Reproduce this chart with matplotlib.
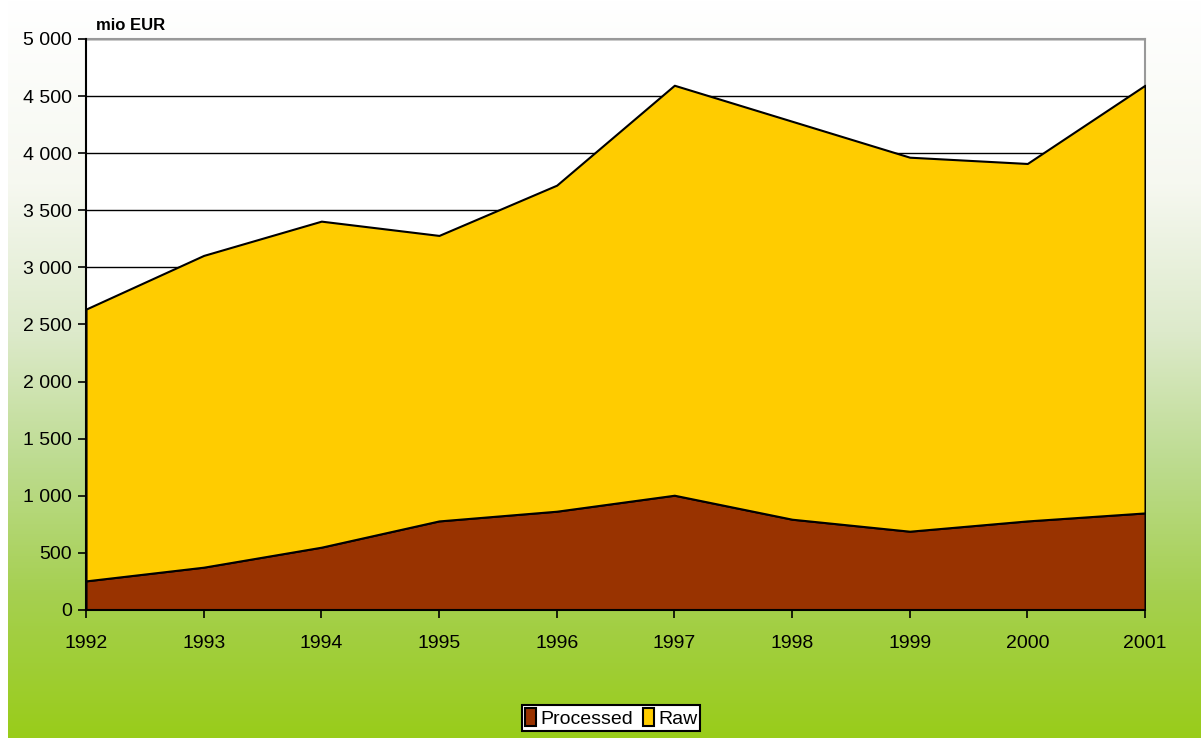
import matplotlib
matplotlib.use('Agg')
import matplotlib.pyplot as plt
import numpy as np
from matplotlib.colors import LinearSegmentedColormap
from matplotlib.ticker import FuncFormatter

plt.rcParams['font.family'] = ['Liberation Sans', 'DejaVu Sans']

# Data (mio EUR)
years     = [1992, 1993, 1994, 1995, 1996, 1997, 1998, 1999, 2000, 2001]
processed = [255, 375, 550, 780, 865, 1005, 795, 690, 780, 850]
total     = [2635, 3105, 3405, 3280, 3720, 4595, 4280, 3965, 3910, 4595]
raw       = [t - p for t, p in zip(total, processed)]

fig = plt.figure(figsize=(12.01, 7.38), dpi=100)

# Background gradient (white at top -> green at bottom)
bg = fig.add_axes([8 / 1201, 0, 1 - 8 / 1201, 1], zorder=0)
cmap = LinearSegmentedColormap.from_list('bg', [
    (0.0, '#FFFFFF'), (0.25, '#F6F8F0'), (0.45, '#DDEACB'),
    (0.62, '#BEDC92'), (0.8, '#A6D052'), (1.0, '#99CC1A')])
grad = np.linspace(0, 1, 256).reshape(-1, 1)
bg.imshow(grad, aspect='auto', cmap=cmap, extent=[0, 1, 0, 1], origin='upper')
bg.axis('off')

# Plot area
ax = fig.add_axes([86 / 1201, 1 - 610 / 738, (1145 - 86) / 1201, (610 - 39) / 738], zorder=1)
ax.set_facecolor('white')
ax.stackplot(years, processed, raw, colors=['#993300', '#FFCC00'],
             edgecolor='black', linewidth=1.5, labels=['Processed', 'Raw'], zorder=3)

ax.set_xlim(1992, 2001)
ax.set_ylim(0, 5000)
ax.set_xticks(years)
ax.set_yticks(range(0, 5001, 500))
ax.yaxis.set_major_formatter(FuncFormatter(lambda v, p: f'{int(v):,}'.replace(',', ' ')))
ax.grid(axis='y', color='black', linewidth=1, zorder=2)
ax.set_axisbelow(True)

ax.tick_params(axis='both', direction='out', length=6, width=1.2, labelsize=14, colors='black')
ax.tick_params(axis='x', pad=12)
ax.tick_params(axis='y', pad=4)
for side in ['top', 'right']:
    ax.spines[side].set_color('#999999')
    ax.spines[side].set_linewidth(1.5)
for side in ['left', 'bottom']:
    ax.spines[side].set_color('black')
    ax.spines[side].set_linewidth(1.5)
    ax.spines[side].set_zorder(5)

fig.text(96 / 1201, 1 - 26 / 738, 'mio EUR', fontsize=12, fontweight='bold', va='center')

leg = fig.legend(loc='center', bbox_to_anchor=(611 / 1201, 1 - 718 / 738), ncol=2,
                 fontsize=14, frameon=True, fancybox=False, edgecolor='black',
                 facecolor='white', framealpha=1,
                 handlelength=0.6, handleheight=1.0, handletextpad=0.2, columnspacing=0.5,
                 borderpad=0.15, borderaxespad=0)
leg.get_frame().set_linewidth(1.5)

fig.savefig('out.png', dpi=100)
